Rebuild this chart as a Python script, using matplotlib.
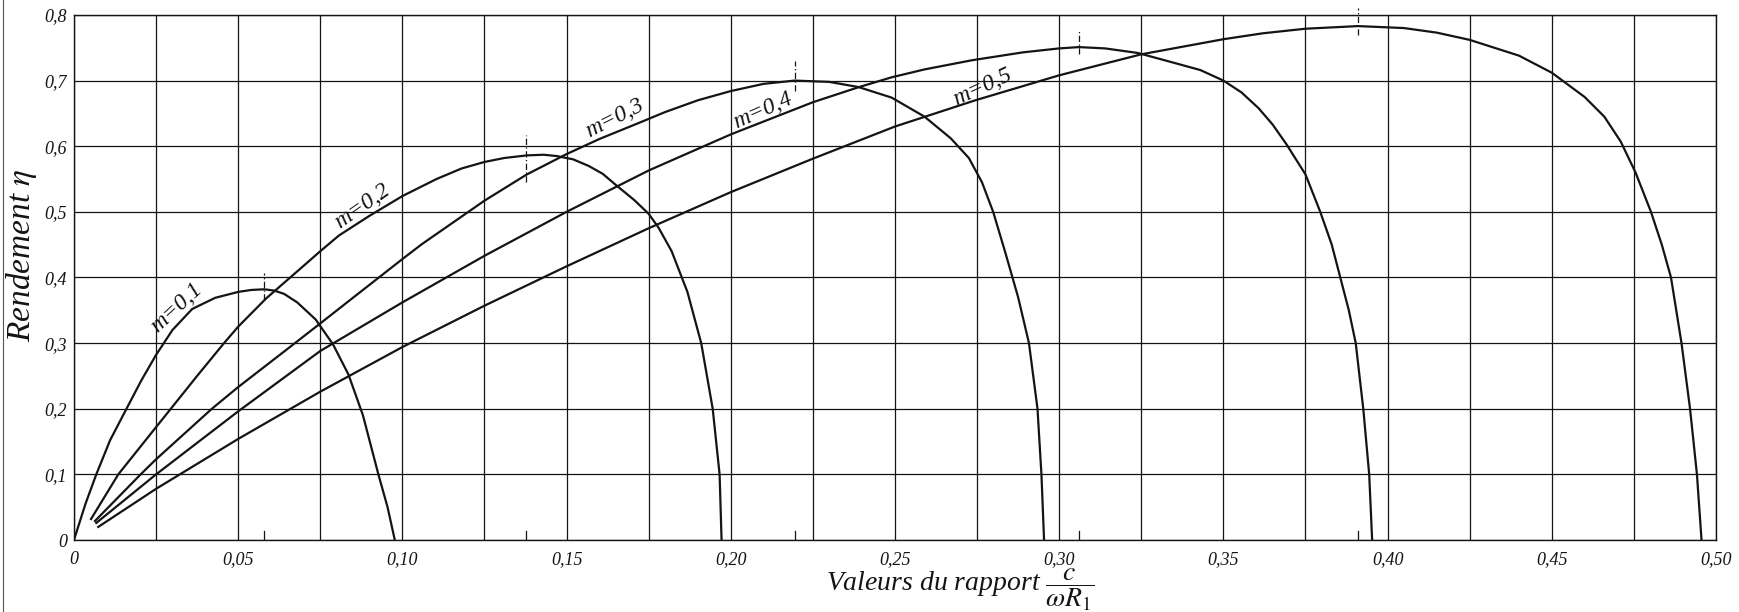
import matplotlib
matplotlib.use("Agg")
import matplotlib.pyplot as plt
from matplotlib.lines import Line2D

# ---------------------------------------------------------------------------
# data: x = c / (omega R1), eta = rendement
# ---------------------------------------------------------------------------
m_labels = ["m=0,1", "m=0,2", "m=0,3", "m=0,4", "m=0,5"]

x_m1 = [0, 0.0035, 0.0068, 0.011, 0.016, 0.0205, 0.025, 0.030, 0.036, 0.043,
        0.050, 0.054, 0.058, 0.061, 0.064, 0.068, 0.0736, 0.0789, 0.0836,
        0.088, 0.0927, 0.0955, 0.0977]
y_m1 = [0, 0.055, 0.10, 0.152, 0.20, 0.243, 0.282, 0.320, 0.352, 0.369,
        0.378, 0.381, 0.382, 0.380, 0.375, 0.362, 0.336, 0.298, 0.252,
        0.19, 0.10, 0.05, 0]

x_m2 = [0.0052, 0.0135, 0.025, 0.0295, 0.0375, 0.0457, 0.050, 0.0585, 0.0693,
        0.075, 0.0807, 0.090, 0.100, 0.1104, 0.118, 0.125, 0.131, 0.1379,
        0.143, 0.147, 0.152, 0.1567, 0.161, 0.165, 0.1706, 0.175, 0.178,
        0.182, 0.1868, 0.191, 0.1945, 0.1966, 0.1972]
y_m2 = [0.032, 0.10, 0.172, 0.20, 0.250, 0.30, 0.325, 0.368, 0.415,
        0.440, 0.464, 0.494, 0.524, 0.550, 0.566, 0.576, 0.582, 0.586,
        0.587, 0.585, 0.580, 0.570, 0.558, 0.541, 0.518, 0.497, 0.476,
        0.44, 0.378, 0.30, 0.20, 0.10, 0]

x_m3 = [0.0064, 0.0203, 0.025, 0.042, 0.050, 0.0673, 0.075, 0.0857, 0.100,
        0.106, 0.125, 0.1379, 0.150, 0.160, 0.1713, 0.180, 0.190, 0.200,
        0.210, 0.2195, 0.230, 0.239, 0.249, 0.259, 0.267, 0.2725, 0.2765,
        0.2799, 0.2836, 0.2875, 0.2908, 0.2934, 0.2946, 0.2954]
y_m3 = [0.029, 0.10, 0.123, 0.20, 0.233, 0.30, 0.330, 0.372, 0.428,
        0.451, 0.517, 0.557, 0.588, 0.611, 0.634, 0.652, 0.670, 0.684,
        0.695, 0.700, 0.698, 0.690, 0.674, 0.645, 0.612, 0.582, 0.545,
        0.50, 0.438, 0.37, 0.30, 0.20, 0.10, 0]

x_m4 = [0.0068, 0.025, 0.050, 0.075, 0.100, 0.125, 0.150, 0.175, 0.200,
        0.225, 0.239, 0.249, 0.259, 0.2735, 0.289, 0.300, 0.306, 0.314,
        0.324, 0.335, 0.343, 0.350, 0.3555, 0.3607, 0.365, 0.3692, 0.375,
        0.3795, 0.3830, 0.3856, 0.3882, 0.3903, 0.3926, 0.3944, 0.3953]
y_m4 = [0.026, 0.10, 0.196, 0.288, 0.362, 0.433, 0.500, 0.563, 0.618,
        0.667, 0.690, 0.705, 0.717, 0.731, 0.743, 0.749, 0.751, 0.749,
        0.742, 0.727, 0.716, 0.700, 0.682, 0.658, 0.633, 0.603, 0.557,
        0.50, 0.45, 0.40, 0.35, 0.30, 0.20, 0.10, 0]

x_m5 = [0.0074, 0.025, 0.050, 0.075, 0.100, 0.125, 0.150, 0.175, 0.200,
        0.225, 0.250, 0.2745, 0.300, 0.325, 0.350, 0.362, 0.375, 0.391,
        0.405, 0.415, 0.425, 0.440, 0.450, 0.460, 0.466, 0.471, 0.4755,
        0.4802, 0.4835, 0.4863, 0.4895, 0.4921, 0.4942, 0.4956]
y_m5 = [0.020, 0.078, 0.154, 0.226, 0.294, 0.357, 0.417, 0.475, 0.530,
        0.581, 0.630, 0.670, 0.708, 0.740, 0.763, 0.772, 0.779, 0.783,
        0.780, 0.773, 0.762, 0.738, 0.712, 0.675, 0.645, 0.607, 0.56,
        0.50, 0.45, 0.40, 0.30, 0.20, 0.10, 0]

# abscissa of the maximum of each curve (dashed marks)
peak_x = [0.058, 0.1375, 0.2195, 0.306, 0.391]
peak_lo = [0.366, 0.545, 0.684, 0.740, 0.770]
peak_hi = [0.407, 0.617, 0.730, 0.775, 0.810]

# curve labels: anchor on the curve and slope angle
label_x = [0.0335, 0.0895, 0.1660, 0.2110, 0.2780]
label_y = [0.338, 0.492, 0.624, 0.636, 0.672]
label_rot = [43, 35, 27, 24, 25]

x_ticks = [0, 0.05, 0.10, 0.15, 0.20, 0.25, 0.30, 0.35, 0.40, 0.45, 0.50]
x_tick_labels = ["0", "0,05", "0,10", "0,15", "0,20", "0,25", "0,30",
                 "0,35", "0,40", "0,45", "0,50"]
y_ticks = [0, 0.1, 0.2, 0.3, 0.4, 0.5, 0.6, 0.7, 0.8]
y_tick_labels = ["0", "0,1", "0,2", "0,3", "0,4", "0,5", "0,6", "0,7", "0,8"]
x_grid = [i * 0.025 for i in range(21)]

# ---------------------------------------------------------------------------
plt.rcParams["font.family"] = ["Liberation Serif", "DejaVu Serif"]
plt.rcParams["mathtext.fontset"] = "stix"

fig = plt.figure(figsize=(17.4, 6.12), dpi=100)
ax = fig.add_axes([0.0425, 0.1176, 0.9437, 0.858])

ink = "#141414"

# grid (paper ruling)
for gx in x_grid:
    ax.axvline(gx, color=ink, lw=0.9, zorder=1)
for gy in y_ticks:
    ax.axhline(gy, color=ink, lw=0.9, zorder=1)

curves = [(x_m1, y_m1), (x_m2, y_m2), (x_m3, y_m3), (x_m4, y_m4), (x_m5, y_m5)]
for xs, ys in curves:
    ax.plot(xs, ys, color=ink, lw=1.6, solid_joinstyle="round", zorder=3)

# peak marks and small ticks on the base line
for px, lo, hi in zip(peak_x, peak_lo, peak_hi):
    ax.plot([px, px], [lo, hi], color=ink, lw=0.9, ls=(0, (5, 2, 1, 2)),
            zorder=4, clip_on=False)
    ax.plot([px, px], [0, 0.013], color=ink, lw=0.9, zorder=4)

for txt, lx, ly, rot in zip(m_labels, label_x, label_y, label_rot):
    ax.text(lx, ly + 0.004, txt, rotation=rot, rotation_mode="anchor",
            ha="center", va="bottom", fontsize=17, style="italic",
            color=ink, zorder=5)

ax.set_xlim(0, 0.5)
ax.set_ylim(0, 0.8)
ax.set_xticks(x_ticks)
ax.set_xticklabels(x_tick_labels, fontsize=13, style="italic")
ax.set_yticks(y_ticks)
ax.set_yticklabels(y_tick_labels, fontsize=13, style="italic")
ax.tick_params(axis="x", length=0, pad=8, colors=ink)
ax.tick_params(axis="y", length=0, pad=5, colors=ink)
for sp in ax.spines.values():
    sp.set_color(ink)
    sp.set_linewidth(1.0)

fig.text(0.0125, 0.583, r"Rendement $\eta$", rotation=90, fontsize=24,
         style="italic", ha="center", va="center", color=ink)
fig.text(0.552, 0.036, r"Valeurs du rapport $\dfrac{c}{\omega R_1}$",
         fontsize=20, style="italic", ha="center", va="center", color=ink)

# left edge of the scanned sheet
fig.add_artist(Line2D([0.002, 0.002], [0.0, 1.0], transform=fig.transFigure,
                      color="#555555", lw=0.8))

fig.savefig("out.png", dpi=100, facecolor="white")
